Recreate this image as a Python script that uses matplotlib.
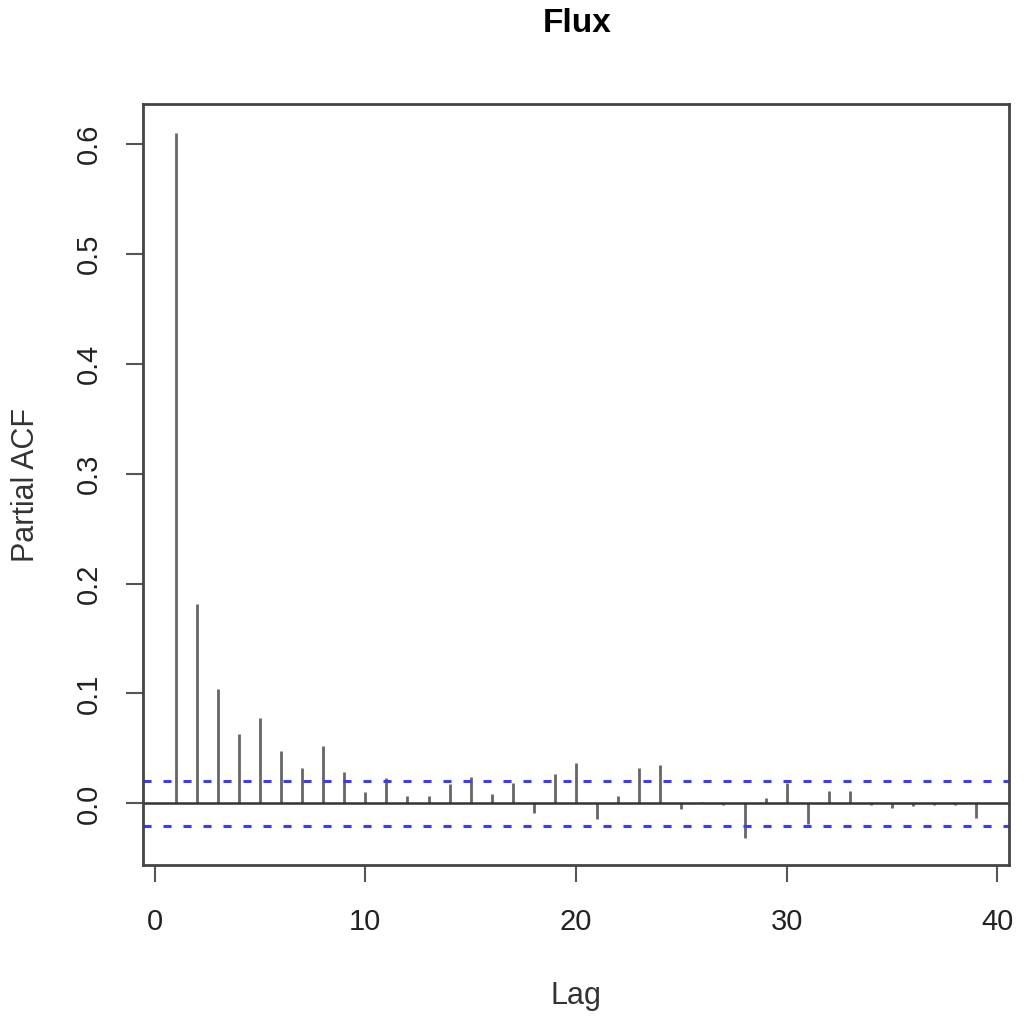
import numpy as np
import matplotlib
matplotlib.use("Agg")
import matplotlib.pyplot as plt

plt.rcParams['font.family'] = ['Liberation Sans', 'DejaVu Sans']
plt.rcParams['lines.scale_dashes'] = False

# partial autocorrelation, lags 1..39
lags = np.arange(1, 40)
pacf = [0.610, 0.181, 0.104, 0.063, 0.078, 0.048, 0.032, 0.052, 0.029, 0.010,
        0.023, 0.007, 0.007, 0.018, 0.024, 0.009, 0.019, -0.009, 0.027, 0.037,
        -0.014, 0.007, 0.032, 0.035, -0.005, 0.001, -0.001, -0.031, 0.005, 0.019,
        -0.019, 0.011, 0.011, -0.001, -0.004, -0.002, -0.001, -0.001, -0.013]
ci = 0.0205
xticks = [0, 10, 20, 30, 40]
yticks = [0.0, 0.1, 0.2, 0.3, 0.4, 0.5, 0.6]

fig = plt.figure(figsize=(10.24, 10.16), dpi=100)
ax = fig.add_axes([0.1396, 0.1486, 0.8458, 0.749])

ax.vlines(lags, 0, pacf, color='#666666', lw=2)
ax.axhline(0, color='#333333', lw=1.8)
ax.axhline(ci, color='#3a3aff', lw=2.2, dashes=(5.8, 8.6))
ax.axhline(-ci, color='#3a3aff', lw=2.2, dashes=(5.8, 8.6))

ax.set_xlim(-0.56, 40.56)
ax.set_ylim(-0.056, 0.636)
ax.set_xticks(xticks)
ax.set_yticks(yticks)
ax.set_yticklabels(['%.1f' % v for v in yticks], rotation=90, va='center')
ax.tick_params(axis='both', length=12, width=1.5, color='#555555',
               labelsize=21, pad=17, labelcolor='#222222')
ax.tick_params(axis='x', pad=19)
for s in ax.spines.values():
    s.set_color('#444444')
    s.set_linewidth(2)

ax.set_xlabel('Lag', fontsize=22, color='#333333', labelpad=32)
ax.set_ylabel('Partial ACF', fontsize=22, color='#333333', labelpad=24)
fig.text(0.5635, 0.977, 'Flux', fontsize=24, fontweight='bold', ha='center', va='center')

fig.savefig('out.png', dpi=100)
